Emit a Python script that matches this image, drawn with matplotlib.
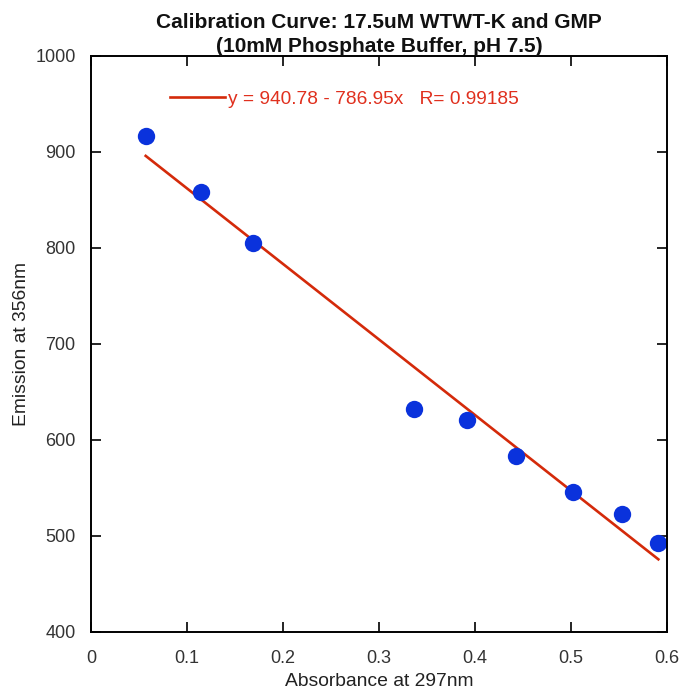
import numpy as np
import matplotlib.pyplot as plt

plt.rcParams['font.family'] = ['Liberation Sans', 'DejaVu Sans']

# absorbance at 297nm vs emission at 356nm
absorbance = np.array([0.057, 0.115, 0.169, 0.336, 0.392, 0.443, 0.502, 0.553, 0.591])
emission = np.array([916.7, 858.3, 805.2, 632.3, 620.8, 583.3, 545.8, 523.0, 492.7])

# fit reported for the data
intercept = 940.78
slope = -786.95
r_value = 0.99185

xticks = [0, 0.1, 0.2, 0.3, 0.4, 0.5, 0.6]
xticklabels = ['0', '0.1', '0.2', '0.3', '0.4', '0.5', '0.6']
yticks = [400, 500, 600, 700, 800, 900, 1000]

fig = plt.figure(figsize=(6.82, 6.91), dpi=100)
ax = fig.add_axes([0.1334, 0.0854, 0.8446, 0.8336])

xfit = np.array([absorbance.min(), absorbance.max()])
yfit = intercept + slope * xfit
ax.plot(xfit, yfit, '-', color='#d42a0a', lw=1.9,
        label='y = %.2f - %.2fx   R= %.5f' % (intercept, -slope, r_value))
ax.plot(absorbance, emission, 'o', color='#0a32dc', markersize=12.5, markeredgewidth=0)

ax.set_xlim(0, 0.6)
ax.set_ylim(400, 1000)
ax.set_xticks(xticks)
ax.set_xticklabels(xticklabels)
ax.set_yticks(yticks)
ax.tick_params(direction='in', length=7, width=1.2, top=True, right=True,
               labelsize=13, labelcolor='#333333')
ax.tick_params(axis='x', pad=13)
ax.tick_params(axis='y', pad=11)
for s in ax.spines.values():
    s.set_linewidth(1.4)

ax.set_xlabel('Absorbance at 297nm', fontsize=13.9, color='#222222', labelpad=4)
ax.set_ylabel('Emission at 356nm', fontsize=13.9, color='#222222', labelpad=4)
ax.set_title('Calibration Curve: 17.5uM WTWT-K and GMP\n(10mM Phosphate Buffer, pH 7.5)',
             fontsize=15, fontweight='bold', color='#111111', pad=3, linespacing=1.3)

leg = ax.legend(loc='upper left', bbox_to_anchor=(0.108, 0.97), frameon=False,
                handlelength=2.85, handletextpad=0.15, fontsize=13.8)
for t in leg.get_texts():
    t.set_color('#e0301e')

plt.savefig('out.png', dpi=100)
